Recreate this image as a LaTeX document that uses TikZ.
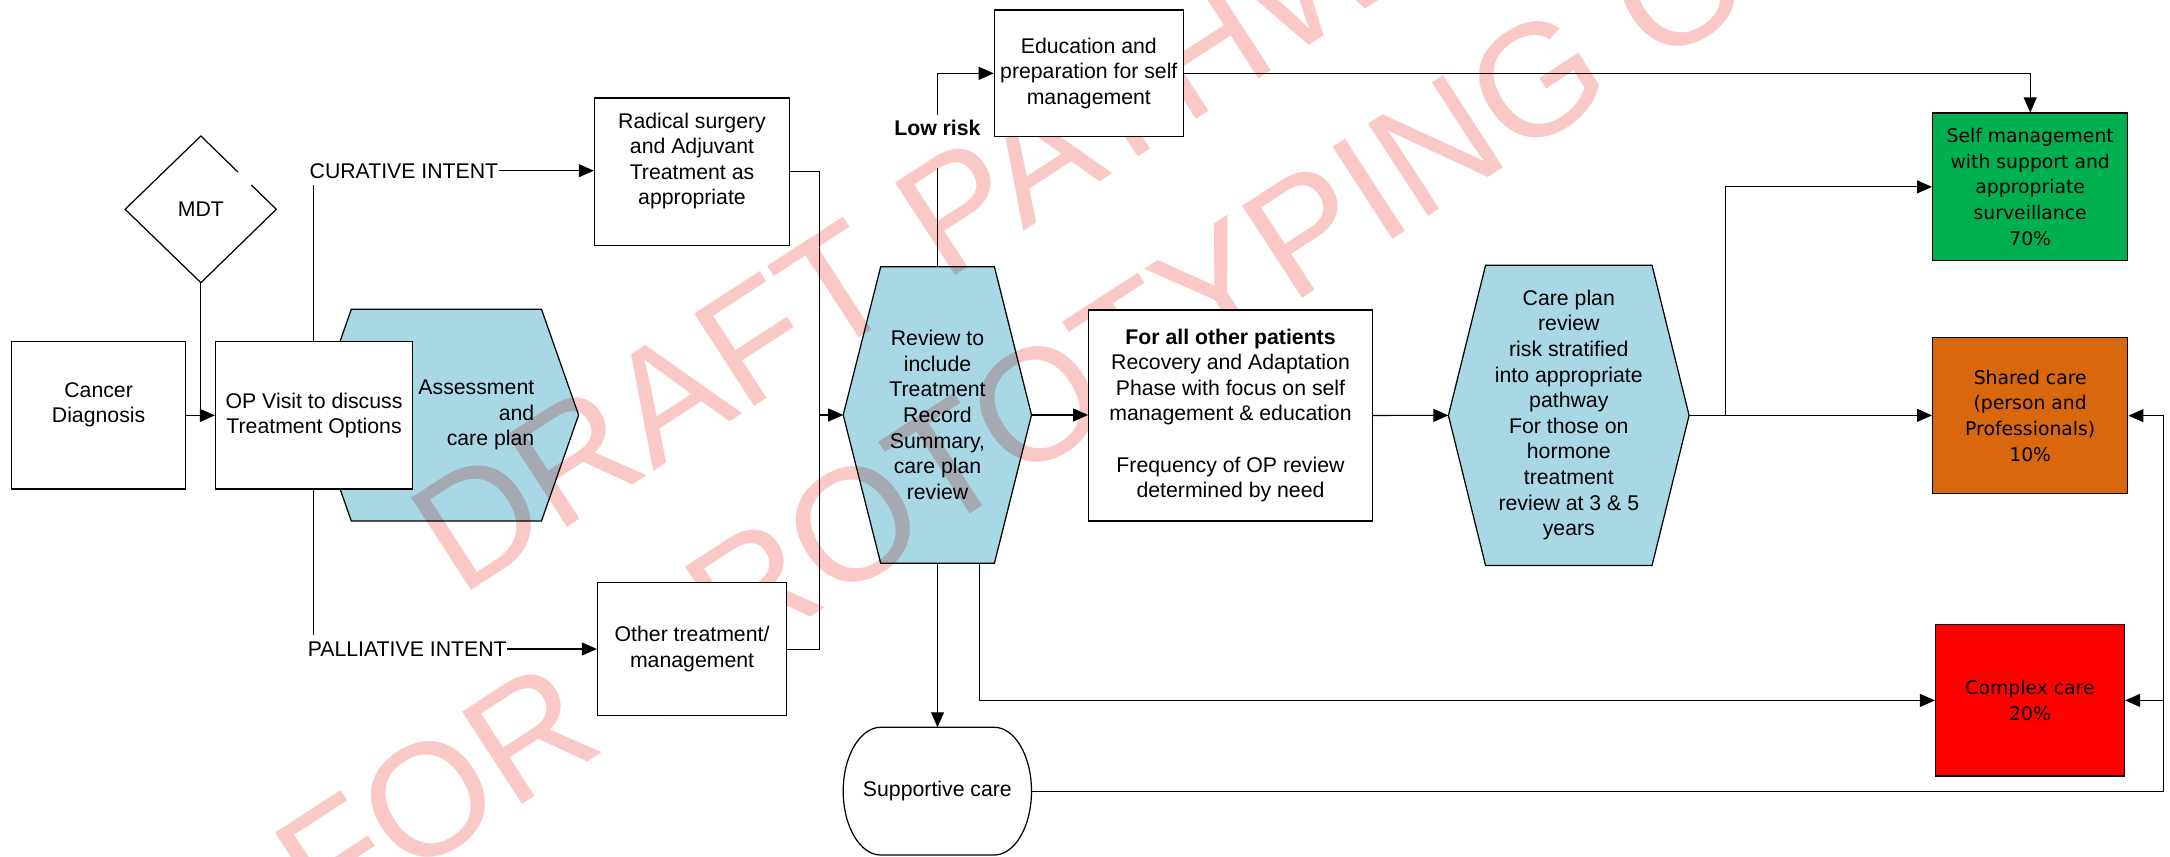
\documentclass[tikz,border=0pt]{standalone}
\usepackage{fontspec}
\setmainfont{Liberation Sans}
\newfontfamily\djv{DejaVu Sans}
\usetikzlibrary{arrows.meta}
\definecolor{hexblue}{RGB}{168,216,228}
\definecolor{wmpink}{RGB}{251,200,200}
\definecolor{boxgreen}{RGB}{0,176,80}
\definecolor{boxorange}{RGB}{216,103,14}
\definecolor{boxred}{RGB}{255,0,0}
\begin{document}
\begin{tikzpicture}[x=0.02cm,y=-0.02cm,
  every node/.style={font=\fontsize{12.1pt}{14.6pt}\selectfont},
  sz/.style 2 args={minimum width=#1*0.02cm, minimum height=#2*0.02cm},
  box/.style={draw, line width=0.7pt, fill=white, inner sep=0pt, align=center},
  ln/.style={line width=0.6pt},
  arr/.style={line width=0.6pt, -{Triangle[length=0.3cm,width=0.26cm]}},
  hexshape/.style={draw, line width=0.7pt, fill=hexblue},
  ctext/.style={font=\djv\fontsize{10.7pt}{14.6pt}\selectfont},
  wm/.style={text=wmpink, font=\fontsize{91pt}{100pt}\selectfont, inner sep=0pt, anchor=base west, rotate=33},
  lbl/.style={inner sep=0pt}
]
\useasboundingbox (0,0) rectangle (2170,857);
\fill[white] (0,0) rectangle (2170,857);

% watermark
\begin{scope}
\clip (0,0) rectangle (2170,857);
\node[wm] (wmA) at (459.7,597.5) {DRAFT PATHWAY};
\node[wm] (wmB) at (324.7,933.1) {FOR PROTOTYPING ONLY};
\end{scope}

% named points
\coordinate (mdtB) at (200.9,282.7);
\coordinate (brT) at (313.9,185.2);
\coordinate (brB) at (313.9,635);
\coordinate (jn) at (819.5,415);
\coordinate (revL) at (843.2,415);
\coordinate (revR) at (1031.5,415);
\coordinate (revT) at (937.3,266.7);
\coordinate (revB) at (937.5,563.3);
\coordinate (revB2) at (979.8,563.3);
\coordinate (careL) at (1448.4,415.4);
\coordinate (careR) at (1689.1,415.4);
\coordinate (lr1) at (937.3,168.3);
\coordinate (lr2) at (937.3,115);
\coordinate (suppT) at (937.5,727.3);
\coordinate (suppR) at (1031.5,791.15);
\coordinate (fbx) at (2163.4,791.15);

% branch line behind OP box
\draw[ln] (brT) -- (brB);

% MDT diamond
\draw[line width=0.7pt] (251.4,185.1) -- (276.3,209.3) -- (200.9,282.7) -- (125.1,209.3) -- (200.9,136) -- (238.0,172.1);
\node (mdt) at (200.9,209.3) {MDT};

% hexagons
\begin{scope}[blend mode=multiply]
\path[hexshape] (351.3,309.3) -- (541.5,309.3) -- (578.6,415) -- (541.5,521) -- (351.3,521) -- (314.2,415) -- cycle;
\path[hexshape] (880.7,266.7) -- (994.4,266.7) -- (revR) -- (994.4,563.3) -- (880.7,563.3) -- (revL) -- cycle;
\path[hexshape] (1485.6,265.2) -- (1652,265.2) -- (careR) -- (1652,565.6) -- (1485.6,565.6) -- (careL) -- cycle;
\end{scope}
\node[align=right, anchor=east, lbl] (assess) at (534.6,415) {Assessment\\and\\care plan};
\node[align=center] (review) at (937.5,415) {Review to\\include\\Treatment\\Record\\Summary,\\care plan\\review};
\node[align=center] (care) at (1568.8,415) {Care plan\\review\\risk stratified\\into appropriate\\pathway\\For those on\\hormone\\treatment\\review at 3 \& 5\\years};

% boxes
\node[box, sz={174.1}{147.3}] (cancer) at (98.6,415.4) {Cancer\\Diagnosis\\\phantom{X}};
\node[box, sz={197.1}{147.3}] (op) at (314.05,415.4) {OP Visit to discuss\\Treatment Options};
\node[box, sz={195.2}{147.3}] (radical) at (692,171.65) {Radical surgery\\and Adjuvant\\Treatment as\\appropriate\\\phantom{X}};
\node[box, sz={189.1}{133}] (other) at (692.05,649.2) {Other treatment/\\management};
\node[box, sz={189}{126.7}] (edu) at (1088.8,73.35) {Education and\\preparation for self\\management};
\node[box, sz={283.6}{211}] (allother) at (1230.5,415.5) {\textbf{For all other patients}\\Recovery and Adaptation\\Phase with focus on self\\management \& education\\[14.6pt]Frequency of OP review\\determined by need};
\node[box, ctext, fill=boxgreen, sz={195.2}{147.6}] (green) at (2030.2,186.9) {Self management\\with support and\\appropriate\\surveillance\\70\%};
\node[box, ctext, fill=boxorange, sz={195.2}{155.7}] (orange) at (2030.2,415.65) {Shared care\\(person and\\Professionals)\\10\%};
\node[box, ctext, fill=boxred, sz={189}{151.4}] (red) at (2030,700.4) {Complex care\\20\%};

% supportive care
\filldraw[fill=white, line width=0.7pt] (880.7,727.3) -- (994.2,727.3) .. controls (1014.8,727.3) and (1031.5,755.9) .. (1031.5,791.15) .. controls (1031.5,826.4) and (1014.8,855) .. (994.2,855) -- (880.7,855) .. controls (860.1,855) and (843.2,826.4) .. (843.2,791.15) .. controls (843.2,755.9) and (860.1,727.3) .. (880.7,727.3) -- cycle;
\node (supp) at (937.4,790.7) {Supportive care};

% labels
\node[anchor=west, lbl] (curative) at (309.3,170.7) {CURATIVE INTENT};
\node[anchor=west, lbl] (palliative) at (307.4,649) {PALLIATIVE INTENT};
\node[font=\bfseries\fontsize{12.1pt}{14.6pt}\selectfont] (lowrisk) at (937.4,127.7) {Low risk};

% connectors
\draw[ln] (mdtB) -- (mdtB |- cancer.east);
\draw[arr] (cancer.east) -- (op.west);
\draw[arr] (curative.east) -- (curative.east -| radical.west);
\draw[ln] (radical.east) -| (jn);
\draw[ln] (other.east) -| (jn);
\draw[arr] (jn) -- (revL);
\draw[arr] (palliative.east) -- (palliative.east -| other.west);
\draw[arr] (revR) -- (revR -| allother.west);
\draw[arr] (allother.east) -- (careL);
\draw[arr] (careR) -- (careR -| orange.west);
\draw[arr] (careR) -- ++(36.3,0) |- (green.west);
\draw[ln] (revT) -- (lr1);
\draw[arr] (lr2) |- (edu.west);
\draw[arr] (edu.east) -| (green.north);
\draw[arr] (revB) -- (suppT);
\draw[arr] (revB2) |- (red.west);
\draw[arr] (suppR) -- (fbx) |- (orange.east);
\draw[arr] (fbx |- red.east) -- (red.east);
\end{tikzpicture}
\end{document}
